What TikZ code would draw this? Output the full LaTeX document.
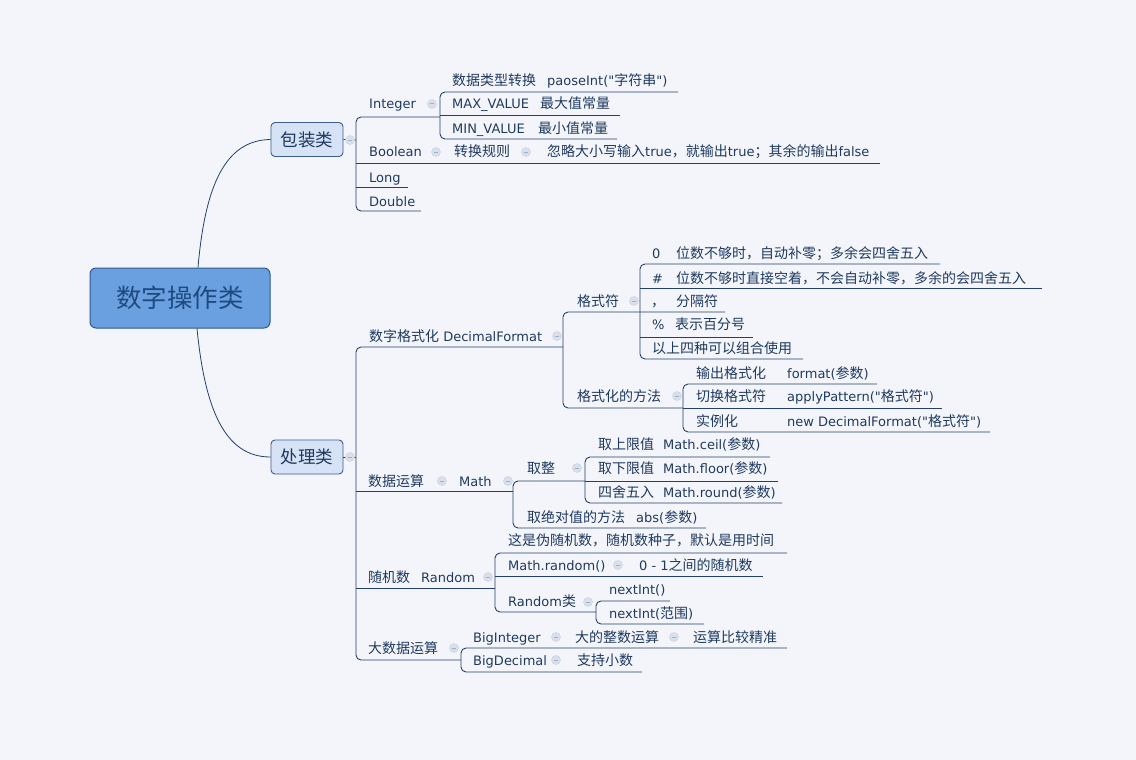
\documentclass[tikz,border=0pt]{standalone}
\usepackage{fontspec}
\setmainfont{DejaVu Sans}[Ligatures=TeXOff]
\newfontfamily\zhfont{Noto Sans CJK SC}
\usetikzlibrary{positioning}
\definecolor{mapPaper}{HTML}{F3F5FA}
\definecolor{mapLine}{HTML}{22406A}
\definecolor{mapText}{HTML}{1F3A60}
\definecolor{rootFill}{HTML}{6AA0E0}
\definecolor{rootEdge}{HTML}{2C5A8E}
\definecolor{rootText}{HTML}{1E4A80}
\definecolor{mainFill}{HTML}{D6E3F7}
\definecolor{mainEdge}{HTML}{3C5E8C}
\definecolor{foldFill}{HTML}{D9E0EC}
\definecolor{foldEdge}{HTML}{C3CEDF}
\definecolor{foldBar}{HTML}{9DB0CC}
\newcommand\zh[1]{{\zhfont\fontsize{14}{16}\selectfont #1}}
\newcommand\qt{\symbol{34}}

\begin{document}
\begin{tikzpicture}[
  x=1pt, y=-1pt,
  font=\fontsize{13}{15}\selectfont,
  branch/.style={draw=mapLine, line width=0.9pt, rounded corners=5pt},
  link/.style={draw=mapLine, line width=0.8pt},
  rootbox/.style={draw=rootEdge, line width=1pt, fill=rootFill, rounded corners=6pt, minimum width=180pt, minimum height=60pt, text=rootText, font=\zhfont\fontsize{25.5}{28}\selectfont},
  mainbox/.style={draw=mainEdge, line width=0.9pt, fill=mainFill, rounded corners=4pt, minimum width=72pt, minimum height=34pt, text=mapText, font=\zhfont\fontsize{17.5}{20}\selectfont},
  topic/.style={anchor=base west, inner sep=0pt, yshift=-5pt, text=mapText},
  fold/.style={circle, fill=foldFill, draw=foldEdge, line width=0.4pt, minimum size=9pt, inner sep=0pt,
    path picture={\draw[foldBar, line width=1pt] ([xshift=-2.4pt]path picture bounding box.center) -- ([xshift=2.4pt]path picture bounding box.center);}}
]
\useasboundingbox (0,0) rectangle (1136,760);
\fill[mapPaper] (0,0) rectangle (1136,760);

% Main topics
\node[rootbox] (root) at (180,298) {数字操作类};
\node[mainbox] (wrap) at (307,139.5) {包装类};
\node[mainbox] (handle) at (307,457) {处理类};

% Curves from the root
\draw[link] ([xshift=18pt]root.north) .. controls (205,186) and (225,140) .. (wrap.west);
\draw[link] ([xshift=17pt]root.south) .. controls (205,410) and (225,457) .. (handle.west);
\draw[link] (wrap.east) -- (356,140);
\draw[link] (handle.east) -- (356,457);

% Wrapper branches
\draw[branch] (440,117) -- (356,117) -- (356,211) -- (421,211);
\draw[branch] (356,163) -- (880,163);
\draw[branch] (356,187) -- (408,187);
\draw[branch] (678,92) -- (440,92) -- (440,139) -- (617,139);
\draw[branch] (440,115) -- (620,115);

% Handling branches
\draw[branch] (563,347) -- (356,347) -- (356,660) -- (461,660);
\draw[branch] (356,491) -- (513,491);
\draw[branch] (356,588) -- (495,588);

% DecimalFormat
\draw[branch] (725,312) -- (563,312) -- (563,408) -- (683,408);
\draw[branch] (940,264) -- (640,264) -- (640,359) -- (803,359);
\draw[branch] (640,288) -- (1042,288);
\draw[branch] (640,337) -- (753,337);
\draw[branch] (877,384) -- (683,384) -- (683,432) -- (990,432);
\draw[branch] (683,408) -- (942,408);

% Math
\draw[branch] (585,481) -- (513,481) -- (513,528) -- (706,528);
\draw[branch] (770,457) -- (585,457) -- (585,503) -- (782,503);
\draw[branch] (585,481) -- (778,481);

% Random
\draw[branch] (787,553) -- (495,553) -- (495,612) -- (596,612);
\draw[branch] (495,576) -- (763,576);
\draw[branch] (670,601) -- (596,601) -- (596,624) -- (704,624);

% Big numbers
\draw[branch] (787,648) -- (461,648) -- (461,672) -- (642,672);

% Fold markers
\foreach \fx/\fy [count=\i] in {350/140, 432/104, 436/152, 526/152, 350/457, 557/336, 634/301, 677/396,
  442/481, 508/481, 577/468, 488/577, 618/565, 588/602, 454/648, 556/637, 674/637, 556/660}
  \node[fold] (fold\i) at (\fx,\fy) {};

% Wrapper topics
\node[topic] (integer) at (369,104) {Integer};
\node[topic] (convert) at (452,81) {\zh{数据类型转换}};
\node[topic] (parse) at (547,81) {paoseInt(\qt\zh{字符串}\qt)};
\node[topic] (maxval) at (452,104) {MAX\_VALUE};
\node[topic] (maxtxt) at (540,104) {\zh{最大值常量}};
\node[topic] (minval) at (452,128) {MIN\_VALUE};
\node[topic] (mintxt) at (538,128) {\zh{最小值常量}};
\node[topic] (boolean) at (369,152) {Boolean};
\node[topic] (rule) at (454,152) {\zh{转换规则}};
\node[topic] (ruletxt) at (547,152) {\zh{忽略大小写输入}true\zh{，就输出}true\zh{；其余的输出}false};
\node[topic] (long) at (369,177) {Long};
\node[topic] (double) at (369,201) {Double};

% Format topics
\node[topic] (format) at (369,336) {\zh{数字格式化} DecimalFormat};
\node[topic] (symbol) at (577,301) {\zh{格式符}};
\node[topic] (zero) at (652,253) {0};
\node[topic] (zerotxt) at (676,253) {\zh{位数不够时，自动补零；多余会四舍五入}};
\node[topic] (hash) at (652,278) {\#};
\node[topic] (hashtxt) at (676,278) {\zh{位数不够时直接空着，不会自动补零，多余的会四舍五入}};
\node[topic] (comma) at (651,301) {\zh{，}};
\node[topic] (commatxt) at (676,301) {\zh{分隔符}};
\node[topic] (pct) at (652,324) {\%};
\node[topic] (pcttxt) at (675,324) {\zh{表示百分号}};
\node[topic] (combine) at (652,348) {\zh{以上四种可以组合使用}};
\node[topic] (method) at (577,396) {\zh{格式化的方法}};
\node[topic] (output) at (696,373) {\zh{输出格式化}};
\node[topic] (outfn) at (787,373) {format(\zh{参数})};
\node[topic] (switch) at (696,396) {\zh{切换格式符}};
\node[topic] (switchfn) at (787,396) {applyPattern(\qt\zh{格式符}\qt)};
\node[topic] (inst) at (696,421) {\zh{实例化}};
\node[topic] (instfn) at (787,421) {new DecimalFormat(\qt\zh{格式符}\qt)};

% Math topics
\node[topic] (calc) at (368,481) {\zh{数据运算}};
\node[topic] (math) at (459,481) {Math};
\node[topic] (round) at (527,468) {\zh{取整}};
\node[topic] (ceil) at (598,444) {\zh{取上限值}};
\node[topic] (ceilfn) at (663,444) {Math.ceil(\zh{参数})};
\node[topic] (floor) at (598,468) {\zh{取下限值}};
\node[topic] (floorfn) at (663,468) {Math.floor(\zh{参数})};
\node[topic] (half) at (598,492) {\zh{四舍五入}};
\node[topic] (halffn) at (663,492) {Math.round(\zh{参数})};
\node[topic] (absolute) at (527,517) {\zh{取绝对值的方法}};
\node[topic] (absfn) at (636,517) {abs(\zh{参数})};

% Random topics
\node[topic] (rand) at (368,577) {\zh{随机数}};
\node[topic] (randcls) at (421,577) {Random};
\node[topic] (pseudo) at (508,540) {\zh{这是伪随机数，随机数种子，默认是用时间}};
\node[topic] (mathrand) at (508,565) {Math.random()};
\node[topic] (range) at (639,565) {0 - 1\zh{之间的随机数}};
\node[topic] (randtype) at (508,601) {Random\zh{类}};
\node[topic] (next) at (609,589) {nextInt()};
\node[topic] (nextrange) at (609,613) {nextInt(\zh{范围})};

% Big number topics
\node[topic] (big) at (368,648) {\zh{大数据运算}};
\node[topic] (bigint) at (473,637) {BigInteger};
\node[topic] (bigtxt) at (575,637) {\zh{大的整数运算}};
\node[topic] (precise) at (693,637) {\zh{运算比较精准}};
\node[topic] (bigdec) at (473,660) {BigDecimal};
\node[topic] (dectxt) at (577,660) {\zh{支持小数}};

\end{tikzpicture}
\end{document}
